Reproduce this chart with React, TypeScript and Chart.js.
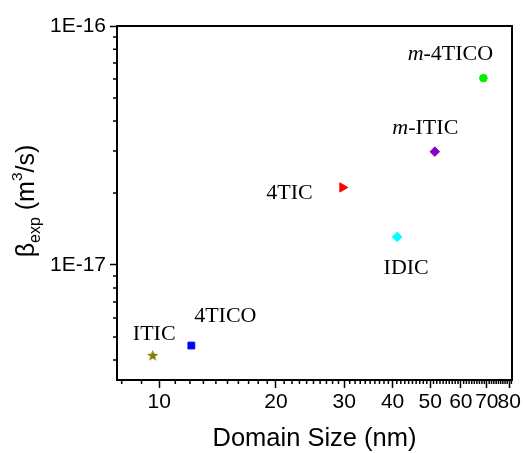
import React, { useEffect, useRef } from 'react';
import { Chart, registerables } from 'chart.js';

Chart.register(...registerables);

// ---- data ----
const names = ['ITIC', '4TICO', '4TIC', 'IDIC', 'm-ITIC', 'm-4TICO'];
const domainSize = [9.62, 12.1, 29.7, 41.1, 51.4, 68.6];
const betaExp = [4.18e-18, 4.6e-18, 2.11e-17, 1.31e-17, 2.98e-17, 6.05e-17];
const xTickValues = [10, 20, 30, 40, 50, 60, 70, 80];
const yTickValues = [1e-17, 1e-16];
const xMinorTicks = [8, 9, 11, 12, 13, 14, 15, 16, 17, 18, 19, 21, 22, 23, 24, 25, 26, 27, 28, 29,
  31, 32, 33, 34, 35, 36, 37, 38, 39, 41, 42, 43, 44, 45, 46, 47, 48, 49, 51, 52, 53, 54, 55, 56, 57, 58, 59,
  61, 62, 63, 64, 65, 66, 67, 68, 69, 71, 72, 73, 74, 75, 76, 77, 78, 79, 81];
const yMinorTicks = [4e-18, 5e-18, 6e-18, 7e-18, 8e-18, 9e-18, 2e-17, 3e-17, 4e-17, 5e-17, 6e-17, 7e-17, 8e-17, 9e-17];
const xRange = [7.78, 81.3];
const yRange = [3.3e-18, 1e-16];

// ---- styles ----
const colors = ['#808000', '#0000FF', '#FF0000', '#00FFFF', '#8B00C8', '#00F000'];
const pointStyles = ['star', 'rect', 'triangle', 'rectRot', 'rectRot', 'circle'];
const pointRadii = [5, 4.8, 5.3, 4.8, 4.8, 3.8];
const pointRotations = [0, 0, 90, 0, 0, 0];
// label center offsets relative to the point (px)
const labelDx = [1.5, 34, -53, 9, -9.5, -33];
const labelDy = [-22.5, -31, 4.5, 29.5, -25, -25];

const SANS = '"Liberation Sans", Arial, sans-serif';
const SERIF = '"Liberation Serif", "Times New Roman", serif';

function makeStar(color: string): HTMLCanvasElement {
  const c = document.createElement('canvas');
  c.width = 13;
  c.height = 13;
  const g = c.getContext('2d')!;
  const cx = 6.5, cy = 6.8, ro = 6, ri = 2.5;
  g.beginPath();
  for (let i = 0; i < 10; i++) {
    const r = i % 2 === 0 ? ro : ri;
    const a = -Math.PI / 2 + (i * Math.PI) / 5;
    const px = cx + r * Math.cos(a);
    const py = cy + r * Math.sin(a);
    if (i === 0) g.moveTo(px, py); else g.lineTo(px, py);
  }
  g.closePath();
  g.fillStyle = color;
  g.fill();
  return c;
}

const framePlugin = {
  id: 'frameAndMinor',
  afterDraw(chart: any) {
    const { ctx, chartArea: ca } = chart;
    const xs = chart.scales.x;
    const ys = chart.scales.y;
    ctx.save();
    ctx.strokeStyle = '#000';
    ctx.lineWidth = 1.5;
    ctx.beginPath();
    xMinorTicks.forEach((v) => {
      const p = xs.getPixelForValue(v);
      if (p < ca.left - 0.5 || p > ca.right + 0.5) return;
      ctx.moveTo(p, ca.bottom);
      ctx.lineTo(p, ca.bottom + 4);
    });
    yMinorTicks.forEach((v) => {
      const p = ys.getPixelForValue(v);
      if (p < ca.top - 0.5 || p > ca.bottom + 0.5) return;
      ctx.moveTo(ca.left, p);
      ctx.lineTo(ca.left - 4, p);
    });
    ctx.stroke();
    ctx.lineWidth = 2;
    ctx.strokeRect(ca.left, ca.top, ca.right - ca.left, ca.bottom - ca.top);

    // y axis title with subscript / superscript
    const size = 25;
    const parts = [
      { t: 'β', s: 1, dy: 0 },
      { t: 'exp', s: 0.64, dy: 0.24 },
      { t: ' (m', s: 1, dy: 0 },
      { t: '3', s: 0.62, dy: -0.5 },
      { t: '/s)', s: 1, dy: 0 },
    ];
    let total = 0;
    const widths = parts.map((p) => {
      ctx.font = `${size * p.s}px ${SANS}`;
      const w = ctx.measureText(p.t).width;
      total += w;
      return w;
    });
    const cy = (ca.top + ca.bottom) / 2 - 2;
    ctx.translate(34, cy + total / 2);
    ctx.rotate(-Math.PI / 2);
    ctx.fillStyle = '#000';
    ctx.textBaseline = 'alphabetic';
    ctx.textAlign = 'left';
    let x = 0;
    parts.forEach((p, i) => {
      ctx.font = `${size * p.s}px ${SANS}`;
      ctx.fillText(p.t, x, p.dy * size);
      x += widths[i];
    });
    ctx.restore();
  },
};

const labelPlugin = {
  id: 'pointLabels',
  afterDatasetsDraw(chart: any) {
    const { ctx } = chart;
    const xs = chart.scales.x;
    const ys = chart.scales.y;
    const size = 22;
    ctx.save();
    ctx.fillStyle = '#000';
    ctx.textBaseline = 'alphabetic';
    ctx.textAlign = 'left';
    names.forEach((name, i) => {
      const px = xs.getPixelForValue(domainSize[i]);
      const py = ys.getPixelForValue(betaExp[i]);
      const pieces = name.startsWith('m-')
        ? [{ t: 'm', it: true }, { t: name.slice(1), it: false }]
        : [{ t: name, it: false }];
      let total = 0;
      const ws = pieces.map((p) => {
        ctx.font = `${p.it ? 'italic ' : ''}${size}px ${SERIF}`;
        const w = ctx.measureText(p.t).width;
        total += w;
        return w;
      });
      let x = px + labelDx[i] - total / 2;
      const base = py + labelDy[i] + size * 0.33;
      pieces.forEach((p, k) => {
        ctx.font = `${p.it ? 'italic ' : ''}${size}px ${SERIF}`;
        ctx.fillText(p.t, x, base);
        x += ws[k];
      });
    });
    ctx.restore();
  },
};

export default function App() {
  const ref = useRef<HTMLCanvasElement | null>(null);

  useEffect(() => {
    if (!ref.current) return;
    const star = makeStar(colors[0]);
    const datasets = names.map((name, i) => ({
      label: name,
      data: [{ x: domainSize[i], y: betaExp[i] }],
      pointStyle: pointStyles[i] === 'star' ? star : pointStyles[i],
      radius: pointRadii[i],
      rotation: pointRotations[i],
      backgroundColor: colors[i],
      borderColor: colors[i],
      borderWidth: 1,
      showLine: false,
    }));

    const chart = new Chart(ref.current, {
      type: 'scatter',
      data: { datasets } as any,
      options: {
        animation: false,
        responsive: false,
        devicePixelRatio: 1,
        layout: { padding: { left: 0, top: 26, right: 11, bottom: 0 } },
        plugins: { legend: { display: false }, tooltip: { enabled: false } },
        scales: {
          x: {
            type: 'logarithmic',
            min: xRange[0],
            max: xRange[1],
            bounds: 'data',
            afterBuildTicks: (s: any) => {
              s.ticks = xTickValues.map((v) => ({ value: v }));
            },
            afterFit: (s: any) => {
              s.height = 73;
              s.paddingLeft = 0;
              s.paddingRight = 0;
            },
            ticks: {
              autoSkip: false,
              maxRotation: 0,
              minRotation: 0,
              padding: 2,
              color: '#000',
              font: { family: SANS, size: 21 },
              callback: (v: any) => String(v),
            },
            grid: {
              display: true,
              drawOnChartArea: false,
              drawTicks: true,
              tickLength: 8,
              tickColor: '#000',
              tickWidth: 1.5,
            },
            border: { display: false },
            title: {
              display: true,
              text: 'Domain Size (nm)',
              color: '#000',
              font: { family: SANS, size: 25.5 },
              padding: { top: 0, bottom: -1 },
            },
          },
          y: {
            type: 'logarithmic',
            min: yRange[0],
            max: yRange[1],
            bounds: 'data',
            afterBuildTicks: (s: any) => {
              s.ticks = yTickValues.map((v) => ({ value: v }));
            },
            afterFit: (s: any) => {
              s.width = 117;
              s.paddingTop = 0;
              s.paddingBottom = 0;
            },
            ticks: {
              autoSkip: false,
              padding: 4,
              color: '#000',
              font: { family: SANS, size: 21 },
              callback: (v: any) => `1E${Math.round(Math.log10(Number(v)))}`,
            },
            grid: {
              display: true,
              drawOnChartArea: false,
              drawTicks: true,
              tickLength: 7,
              tickColor: '#000',
              tickWidth: 1.5,
            },
            border: { display: false },
            title: { display: false },
          },
        },
      } as any,
      plugins: [framePlugin, labelPlugin],
    });
    return () => chart.destroy();
  }, []);

  return (
    <div style={{ position: 'fixed', left: 0, top: 0, width: 523, height: 453, background: '#fff' }}>
      <canvas ref={ref} width={523} height={453} style={{ width: 523, height: 453, display: 'block' }} />
    </div>
  );
}
